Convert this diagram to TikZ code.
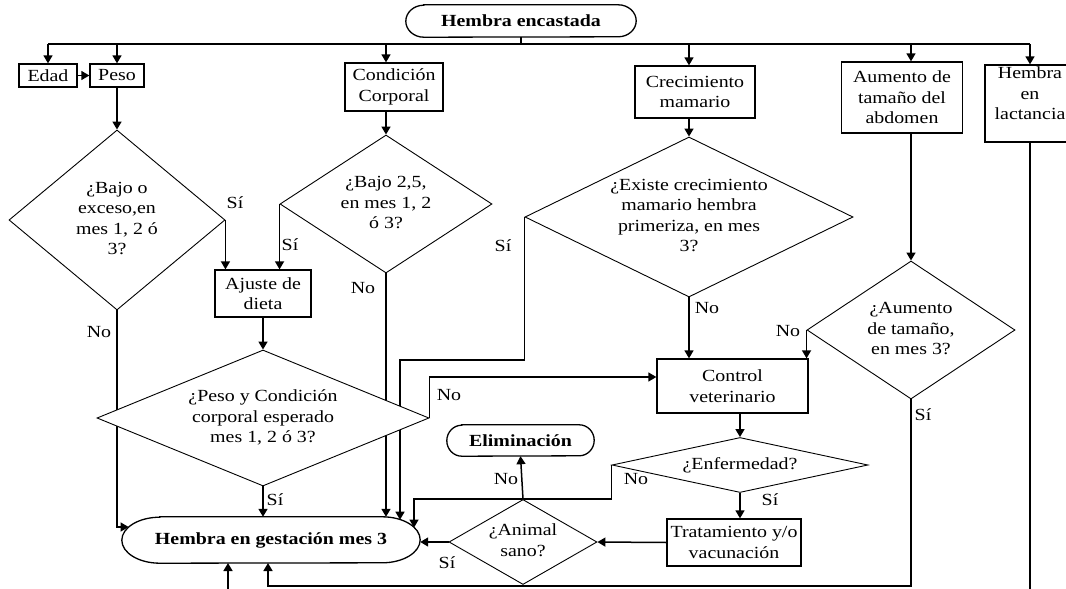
\documentclass[tikz,border=0pt]{standalone}
\usepackage{fontspec}
\setmainfont[FakeStretch=1.17]{Liberation Serif}
\usetikzlibrary{arrows.meta,shapes.geometric,backgrounds}

% text placed in a decision diamond without affecting the diamond's size
\newcommand\dtext[1]{\raisebox{-4.25pt}[0pt][0pt]{\makebox[0pt]{\begin{tabular}{@{}c@{}}#1\end{tabular}}}}
% stadium outline with elliptic ends around a terminal node: name, x radius, y radius
\newcommand\capsule[3]{\draw[boxline] ([xshift=#2]#1.north west) -- ([xshift=-#2]#1.north east)
  arc[start angle=90,end angle=-90,x radius=#2,y radius=#3] -- ([xshift=#2]#1.south west)
  arc[start angle=270,end angle=90,x radius=#2,y radius=#3] -- cycle;}

\begin{document}
\begin{tikzpicture}[x=1pt,y=1pt,
  font=\fontsize{17}{20.5}\selectfont,
  conn/.style={line width=1.5pt},
  arr/.style={conn,-{Triangle[length=8pt,width=9pt]}},
  boxline/.style={line width=1.3pt},
  proc/.style={draw,boxline,fill=white,inner sep=0pt,align=center},
  term/.style={inner sep=0pt},
  decision/.style={diamond,draw,line width=0.9pt,fill=white,inner sep=0pt},
  lbl/.style={inner sep=0pt}]
\useasboundingbox (0,0) rectangle (1066,-589);
\clip (0,0) rectangle (1066,-589);

% ---- top row ----
\node[term,minimum width=230pt,minimum height=32pt] (enc) at (521,-21) {\textbf{Hembra encastada}};
\capsule{enc}{18pt}{16pt}
\node[proc,minimum width=58pt,minimum height=23pt] (edad) at (48,-75.5) {Edad};
\node[proc,minimum width=54pt,minimum height=23pt] (peso) at (117,-75.5) {Peso};
\node[proc,minimum width=98pt,minimum height=48pt] (cond) at (394,-87) {Condición\\Corporal};
\node[proc,minimum width=120pt,minimum height=52pt] (cre) at (695,-92) {Crecimiento\\mamario};
\node[proc,minimum width=121pt,minimum height=71pt] (aum) at (902,-97.5) {Aumento de\\tamaño del\\abdomen};
\node[proc,minimum width=90pt,minimum height=77pt] (lac) at (1030,-103.5) {Hembra\\en\\lactancia\\\mbox{}};

% ---- decisions and steps ----
\node[decision,minimum width=216pt,minimum height=180pt] (dpeso) at (117,-220)
  {\dtext{¿Bajo o\\exceso,en\\mes 1, 2 ó\\3?}};
\node[decision,minimum width=212pt,minimum height=138pt] (dcond) at (386,-204)
  {\dtext{¿Bajo 2,5,\\en mes 1, 2\\ó 3?}};
\node[proc,minimum width=96pt,minimum height=47pt] (ajuste) at (263,-293.5) {Ajuste de\\dieta};
\node[decision,minimum width=332pt,minimum height=136pt] (dpc) at (263,-418)
  {\dtext{¿Peso y Condición\\corporal esperado\\mes 1, 2 ó 3?}};
\node[decision,minimum width=328pt,minimum height=160pt] (dexi) at (689,-217)
  {\dtext{¿Existe crecimiento\\mamario hembra\\primeriza, en mes\\3?}};
\node[decision,minimum width=208pt,minimum height=138pt] (daum) at (911,-330)
  {\dtext{¿Aumento\\de tamaño,\\en mes 3?}};
\node[proc,minimum width=151pt,minimum height=54pt] (ctrl) at (732.5,-386) {Control\\veterinario};
\node[decision,minimum width=256pt,minimum height=55pt] (denf) at (740,-465) {\dtext{¿Enfermedad?}};
\node[proc,minimum width=134pt,minimum height=47pt] (trat) at (734,-542.5) {Tratamiento y/o\\vacunación};
\node[decision,minimum width=148pt,minimum height=85pt] (danim) at (523,-542) {\dtext{¿Animal\\sano?}};
\node[term,minimum width=147pt,minimum height=31pt] (elim) at (520.5,-440.5) {\textbf{Eliminación}};
\capsule{elim}{15pt}{15.5pt}
\node[term,minimum width=298pt,minimum height=46pt] (gest) at (271,-540) {\textbf{Hembra en gestación mes 3}};
\capsule{gest}{38pt}{23pt}

% ---- reference points ----
\coordinate (bus) at (0,-44);
\coordinate (base) at (0,-586);
\coordinate (edge) at (0,-595);
\coordinate (yNo) at (0,-377);
\coordinate (jog) at (400,-360);
\coordinate (gL) at (128.6,-527);
\coordinate (gA) at (400,-519.7);
\coordinate (gB) at (414,-527.6);
\coordinate (gQ) at (228,-563);
\coordinate (gR) at (268,-563);

% ---- connectors ----
\begin{pgfonlayer}{background}
\draw[conn] (enc.south) -- (enc.south |- bus);
\draw[conn] (edad.north |- bus) -- (lac.north |- bus);
\draw[arr] (edad.north |- bus) -- (edad.north);
\draw[arr] (peso.north |- bus) -- (peso.north);
\draw[arr] (dcond.north |- bus) -- (dcond.north |- cond.north);
\draw[arr] (dexi.north |- bus) -- (dexi.north |- cre.north);
\draw[arr] (daum.north |- bus) -- (daum.north |- aum.north);
\draw[arr] (lac.north |- bus) -- (lac.north);
\draw[arr] (edad) -- (peso);
\draw[arr] (peso) -- (dpeso.north);
\draw[arr] (dcond.north |- cond.south) -- (dcond.north);
\draw[arr] (dexi.north |- cre.south) -- (dexi.north);
\draw[arr] (daum.north |- aum.south) -- (daum.north);
\draw[arr] (dpeso.east) -- (dpeso.east |- ajuste.north);
\draw[arr] (dcond.west) -- (dcond.west |- ajuste.north);
\draw[arr] (dpeso.south) |- (gL);
\draw[arr] (dcond.south) -- (dcond.south |- gest.north);
\draw[arr] (ajuste) -- (dpc.north);
\draw[arr] (dpc.south) -- (dpc.south |- gest.north);
\draw[arr] (dpc.east) |- (ctrl.west |- yNo);
\draw[arr] (dexi.west) |- (jog) -- (gA);
\draw[arr] (dexi.south) -- (dexi.south |- ctrl.north);
\draw[arr] (daum.west) -- (daum.west |- ctrl.north);
\draw[arr] (daum.south) |- (gR |- base) -- (gR);
\draw[conn] (lac.south) -- (lac.south |- edge);
\draw[arr] (gQ |- edge) -- (gQ);
\draw[arr] (denf.north |- ctrl.south) -- (denf.north);
\draw[arr] (denf.south) -- (denf.south |- trat.north);
\draw[arr] (denf.west) |- (gB |- danim.north) -- (gB);
\draw[arr] (danim.north) -- (elim.south);
\draw[arr] (trat.west) -- (danim.east);
\draw[arr] (danim.west) -- (danim.west -| gest.east);
\end{pgfonlayer}

% ---- branch labels ----
\node[lbl] at (235,-203) {Sí};
\node[lbl] at (290,-245) {Sí};
\node[lbl] at (363,-288) {No};
\node[lbl] at (99,-332) {No};
\node[lbl] at (275,-500) {Sí};
\node[lbl] at (449,-395) {No};
\node[lbl] at (503,-246) {Sí};
\node[lbl] at (707,-308) {No};
\node[lbl] at (788,-331) {No};
\node[lbl] at (923,-415) {Sí};
\node[lbl] at (636,-479) {No};
\node[lbl] at (770,-500) {Sí};
\node[lbl] at (506,-479) {No};
\node[lbl] at (447,-563) {Sí};
\end{tikzpicture}
\end{document}
